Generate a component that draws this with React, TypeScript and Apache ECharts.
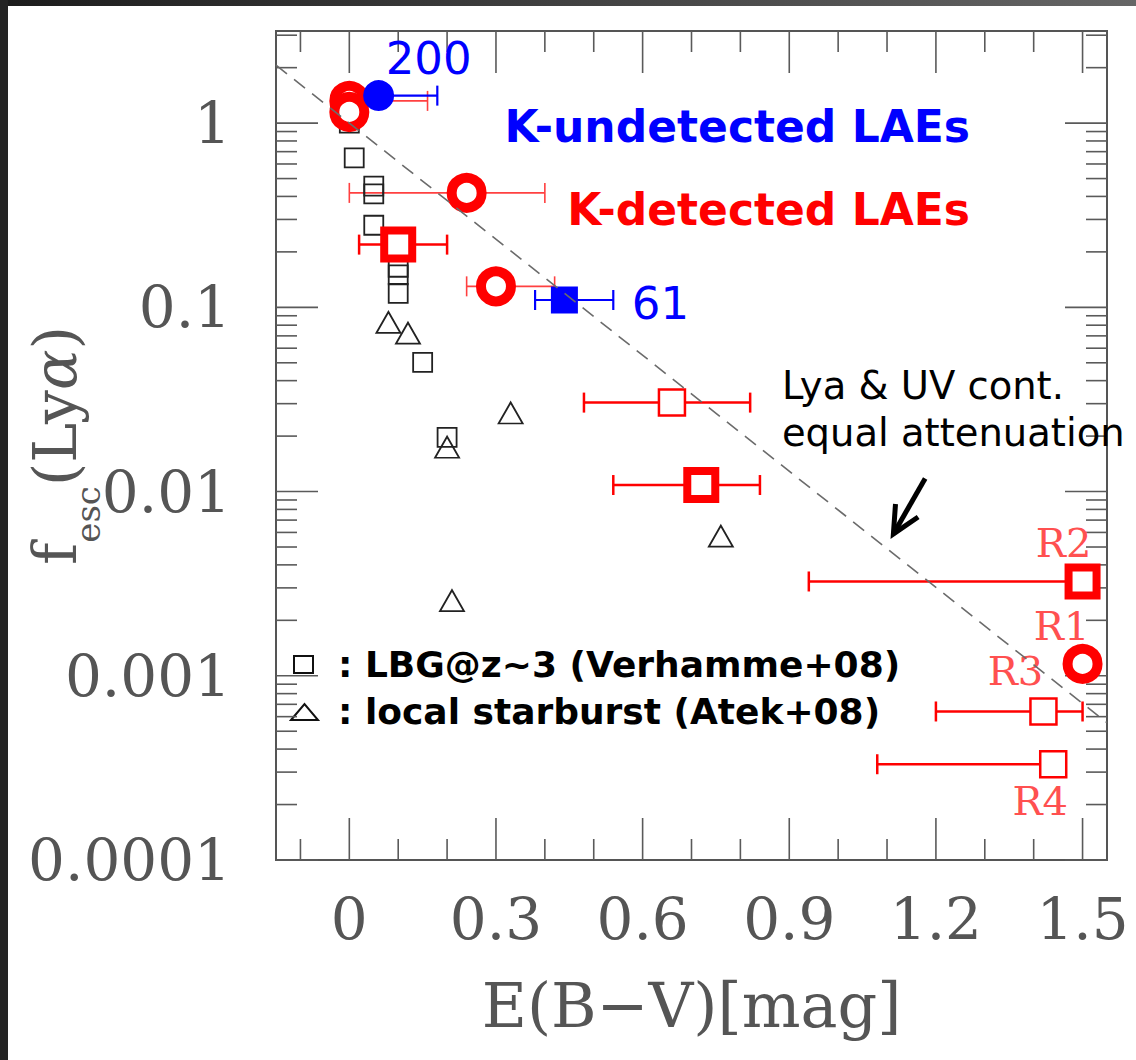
import React, { useEffect, useRef } from 'react';
import * as echarts from 'echarts';

// ---- axis extents ----
const X_MIN = -0.15;
const X_MAX = 1.55;
const Y_MIN = 1e-4;
const Y_MAX = Math.sqrt(10);

// ---- tick marks and labels ----
const xTickValues = [0, 0.3, 0.6, 0.9, 1.2, 1.5];
const xTickLabels = ['0', '0.3', '0.6', '0.9', '1.2', '1.5'];
const xMinorTicks = [-0.1, 0.1, 0.2, 0.4, 0.5, 0.7, 0.8, 1.0, 1.1, 1.3, 1.4];
const yTickValues = [1e-4, 1e-3, 1e-2, 1e-1, 1];
const yTickLabels = ['0.0001', '0.001', '0.01', '0.1', '1'];
const yMinorMultipliers = [2, 3, 4, 5, 6, 7, 8, 9];

// ---- LBGs at z~3 (Verhamme+08) ----
const LBG_NAME = 'LBG@z~3 (Verhamme+08)';
const lbgEbv = [0.0, 0.01, 0.05, 0.05, 0.05, 0.10, 0.10, 0.10, 0.15, 0.20];
const lbgFesc = [1.0, 0.647, 0.455, 0.413, 0.279, 0.165, 0.150, 0.119, 0.0502, 0.0197];

// ---- local starbursts (Atek+08) ----
const SB_NAME = 'local starburst (Atek+08)';
const sbEbv = [0.08, 0.12, 0.33, 0.20, 0.21, 0.76];
const sbFesc = [0.0829, 0.0724, 0.0267, 0.0174, 0.00256, 0.00573];

// ---- K-detected LAEs: circles ----
const kdCircEbv = [0.0, 0.0, 0.24, 0.30, 1.50];
const kdCircFesc = [1.32, 1.15, 0.418, 0.130, 0.00116];
const kdCircEbvLo = [0.0, 0.0, 0.0, 0.24, 1.49];
const kdCircEbvHi = [0.16, 0.0, 0.40, 0.42, 1.50];
const kdCircNames = ['', '', '', '', 'R1'];

// ---- K-detected LAEs: bold squares ----
const kdSqEbv = [0.10, 0.72, 1.50];
const kdSqFesc = [0.219, 0.01085, 0.00325];
const kdSqEbvLo = [0.02, 0.54, 0.94];
const kdSqEbvHi = [0.20, 0.84, 1.50];
const kdSqNames = ['', '', 'R2'];

// ---- K-detected LAEs: thin squares ----
const kdOpenEbv = [0.66, 1.42, 1.44];
const kdOpenFesc = [0.0304, 0.00064, 0.000331];
const kdOpenEbvLo = [0.48, 1.20, 1.08];
const kdOpenEbvHi = [0.82, 1.50, 1.46];
const kdOpenNames = ['', 'R3', 'R4'];

// ---- K-undetected LAEs (stacks) ----
const kuEbv = [0.06, 0.44];
const kuFesc = [1.41, 0.1096];
const kuEbvLo = [0.0, 0.38];
const kuEbvHi = [0.18, 0.54];
const kuCounts = ['200', '61'];

// ---- equal attenuation of Lya and UV continuum ----
const attenEbv = [-0.15, 1.55];
const attenFesc = [2.065, 0.000556];

// ---- annotation ----
const noteLines = ['Lya & UV cont.', 'equal attenuation'];
const noteEbv = 0.885;
const noteFesc = [0.0377, 0.0209];
const arrowTail = [1.178, 0.01177];
const arrowTip = [1.113, 0.00589];

const SERIF = "'DejaVu Serif', serif";
const SANS = "'DejaVu Sans', sans-serif";
const RED = '#ff0000';
const BLUE = '#0000ff';
const AXIS_TEXT = '#555';
const TICK = '#5a5a5a';

const labelOffsets: Record<string, number[]> = {
  R1: [-21, -38],
  R2: [-19, -38],
  R3: [-28, -40],
  R4: [-13, 37],
  '200': [50, -37],
  '61': [96, 4],
};

const pairs = (xs: number[], ys: number[]) => xs.map((x, i) => [x, ys[i]]);

const markerItems = (xs: number[], ys: number[], names: string[] | null, labelStyle: any) =>
  xs.map((x, i) => {
    const item: any = { value: [x, ys[i]] };
    const n = names ? names[i] : '';
    if (n) {
      item.name = n;
      item.label = {
        show: true,
        position: 'inside',
        formatter: n,
        offset: labelOffsets[n],
        ...labelStyle,
      };
    }
    return item;
  });

const barItems = (xs: number[], ys: number[], lo: number[], hi: number[]) =>
  xs.map((x, i) => [x, ys[i], lo[i], hi[i]]);

const errorBarSeries = (name: string, data: number[][], color: string, width: number, cap: number) => ({
  type: 'custom',
  name,
  silent: true,
  clip: false,
  encode: { x: 0, y: 1 },
  data,
  renderItem: (_p: any, api: any) => {
    const y = api.value(1);
    const lo = api.value(2);
    const hi = api.value(3);
    if (!(hi > lo)) return null;
    const a = api.coord([lo, y]);
    const b = api.coord([hi, y]);
    const st = { stroke: color, lineWidth: width };
    return {
      type: 'group',
      children: [
        { type: 'line', shape: { x1: a[0], y1: a[1], x2: b[0], y2: b[1] }, style: st },
        { type: 'line', shape: { x1: a[0], y1: a[1] - cap, x2: a[0], y2: a[1] + cap }, style: st },
        { type: 'line', shape: { x1: b[0], y1: b[1] - cap, x2: b[0], y2: b[1] + cap }, style: st },
      ],
    };
  },
});

const seg = (x1: number, y1: number, x2: number, y2: number) => ({
  type: 'line',
  shape: { x1, y1, x2, y2 },
  style: { stroke: TICK, lineWidth: 1.6 },
});

function buildOption() {
  const rLabel = { color: '#ff5050', fontFamily: SERIF, fontSize: 40 };
  const nLabel = { color: BLUE, fontFamily: SANS, fontSize: 45 };

  const yMinor: number[] = [];
  for (let e = -4; e <= 0; e++) {
    for (const m of yMinorMultipliers) {
      const v = m * Math.pow(10, e);
      if (v < Y_MAX) yMinor.push(v);
    }
  }

  return {
    animation: false,
    backgroundColor: '#ffffff',
    grid: {
      left: 276,
      top: 31,
      width: 831,
      height: 829,
      outerBoundsMode: 'none',
      containLabel: false,
      show: true,
      borderColor: '#555',
      borderWidth: 2,
      backgroundColor: 'transparent',
    },
    xAxis: {
      type: 'value',
      min: X_MIN,
      max: X_MAX,
      axisLine: { show: false },
      axisTick: { show: false },
      splitLine: { show: false },
      axisLabel: {
        customValues: xTickValues,
        margin: 30,
        fontFamily: SERIF,
        fontSize: 58,
        color: AXIS_TEXT,
        formatter: (v: number) => {
          const i = xTickValues.findIndex((t) => Math.abs(t - v) < 1e-6);
          return i >= 0 ? xTickLabels[i] : '';
        },
      },
      name: 'E(B\u2212V)[mag]',
      nameLocation: 'middle',
      nameGap: 114,
      nameMoveOverlap: false,
      nameTextStyle: { fontFamily: SERIF, fontSize: 62, color: AXIS_TEXT },
    },
    yAxis: {
      type: 'log',
      logBase: 10,
      min: Y_MIN,
      max: Y_MAX,
      axisLine: { show: false },
      axisTick: { show: false },
      splitLine: { show: false },
      axisLabel: {
        margin: 45,
        showMinLabel: true,
        fontFamily: SERIF,
        fontSize: 58,
        color: AXIS_TEXT,
        formatter: (v: number) => {
          const i = yTickValues.findIndex((t) => Math.abs(Math.log10(t) - Math.log10(v)) < 1e-6);
          return i >= 0 ? yTickLabels[i] : '';
        },
      },
      name: '{t|f}{sub|esc}{t|(Ly}{a|\u03b1}{t|)}',
      nameLocation: 'middle',
      nameRotate: 90,
      nameGap: 151,
      nameMoveOverlap: false,
      nameTextStyle: {
        rich: {
          t: { fontFamily: SERIF, fontSize: 60, lineHeight: 60, verticalAlign: 'top', color: AXIS_TEXT },
          a: {
            fontFamily: SERIF,
            fontSize: 60,
            lineHeight: 60,
            verticalAlign: 'top',
            fontStyle: 'italic',
            color: AXIS_TEXT,
          },
          sub: {
            fontFamily: SERIF,
            fontSize: 34,
            lineHeight: 100,
            verticalAlign: 'top',
            padding: [46, 0, 0, 0],
            color: AXIS_TEXT,
          },
        },
      },
    },
    graphic: [
      {
        type: 'rect',
        shape: { x: 0, y: 0, width: 1136, height: 6 },
        style: {
          fill: new echarts.graphic.LinearGradient(0, 0, 1, 0, [
            { offset: 0, color: '#1c1c1c' },
            { offset: 1, color: '#666666' },
          ]),
        },
        silent: true,
      },
      {
        type: 'rect',
        shape: { x: 0, y: 0, width: 8, height: 1060 },
        style: { fill: '#242424' },
        silent: true,
      },
      {
        type: 'text',
        x: 970,
        y: 126,
        style: {
          text: 'K-undetected LAEs',
          fill: BLUE,
          fontFamily: SANS,
          fontWeight: 'bold',
          fontSize: 44,
          textAlign: 'right',
          align: 'right',
          textVerticalAlign: 'middle',
          verticalAlign: 'middle',
        },
      },
      {
        type: 'text',
        x: 970,
        y: 209,
        style: {
          text: 'K-detected LAEs',
          fill: RED,
          fontFamily: SANS,
          fontWeight: 'bold',
          fontSize: 44,
          textAlign: 'right',
          align: 'right',
          textVerticalAlign: 'middle',
          verticalAlign: 'middle',
        },
      },
      {
        type: 'rect',
        shape: { x: 294, y: 656, width: 19, height: 17 },
        style: { fill: 'none', stroke: '#111', lineWidth: 2 },
      },
      {
        type: 'polygon',
        shape: { points: [[291, 720], [304.5, 704], [318, 720]] },
        style: { fill: 'none', stroke: '#111', lineWidth: 2 },
      },
      {
        type: 'text',
        x: 338,
        y: 664,
        style: {
          text: ': ' + LBG_NAME,
          fill: '#000',
          fontFamily: SANS,
          fontWeight: 'bold',
          fontSize: 36,
          textVerticalAlign: 'middle',
          verticalAlign: 'middle',
        },
      },
      {
        type: 'text',
        x: 338,
        y: 711,
        style: {
          text: ': ' + SB_NAME,
          fill: '#000',
          fontFamily: SANS,
          fontWeight: 'bold',
          fontSize: 36,
          textVerticalAlign: 'middle',
          verticalAlign: 'middle',
        },
      },
    ],
    series: [
      // inward ticks on all four sides of the frame
      {
        type: 'custom',
        name: 'frame ticks',
        silent: true,
        clip: false,
        data: [[0, 1]],
        encode: { x: 0, y: 1 },
        renderItem: (_p: any, api: any) => {
          const children: any[] = [];
          const yBot = api.coord([0, Y_MIN])[1];
          const yTop = api.coord([0, Y_MAX])[1];
          const xL = api.coord([X_MIN, 1])[0];
          const xR = api.coord([X_MAX, 1])[0];
          const xt = (v: number, len: number) => {
            const x = api.coord([v, 1])[0];
            children.push(seg(x, yBot, x, yBot - len), seg(x, yTop, x, yTop + len));
          };
          const yt = (v: number, len: number) => {
            const y = api.coord([0, v])[1];
            children.push(seg(xL, y, xL + len, y), seg(xR, y, xR - len, y));
          };
          xTickValues.forEach((v) => xt(v, 42));
          xMinorTicks.forEach((v) => xt(v, 21));
          yTickValues.forEach((v) => yt(v, 42));
          yMinor.forEach((v) => yt(v, 21));
          return { type: 'group', children };
        },
      },
      {
        type: 'line',
        name: 'equal attenuation',
        silent: true,
        symbol: 'none',
        data: pairs(attenEbv, attenFesc),
        lineStyle: { color: '#6b6b6b', width: 1.6, type: [14, 9] },
      },
      {
        type: 'scatter',
        name: LBG_NAME,
        silent: true,
        symbol: 'rect',
        symbolSize: 19,
        itemStyle: { color: 'rgba(0,0,0,0)', borderColor: '#222', borderWidth: 1.8, opacity: 1 },
        data: pairs(lbgEbv, lbgFesc),
      },
      {
        type: 'scatter',
        name: SB_NAME,
        silent: true,
        symbol: 'triangle',
        symbolSize: [24, 21],
        itemStyle: { color: 'rgba(0,0,0,0)', borderColor: '#222', borderWidth: 1.8, opacity: 1 },
        data: pairs(sbEbv, sbFesc),
      },
      errorBarSeries('K-detected circles err', barItems(kdCircEbv, kdCircFesc, kdCircEbvLo, kdCircEbvHi), '#ff4040', 1.6, 10),
      {
        type: 'scatter',
        name: 'K-detected circles',
        silent: true,
        symbol: 'circle',
        symbolSize: 30,
        itemStyle: { color: '#fff', borderColor: RED, borderWidth: 10, opacity: 1 },
        data: markerItems(kdCircEbv, kdCircFesc, kdCircNames, rLabel),
      },
      errorBarSeries('K-detected open err', barItems(kdOpenEbv, kdOpenFesc, kdOpenEbvLo, kdOpenEbvHi), RED, 2.5, 10),
      {
        type: 'scatter',
        name: 'K-detected open squares',
        silent: true,
        symbol: 'rect',
        symbolSize: 26,
        itemStyle: { color: '#fff', borderColor: RED, borderWidth: 2.5, opacity: 1 },
        data: markerItems(kdOpenEbv, kdOpenFesc, kdOpenNames, rLabel),
      },
      {
        type: 'scatter',
        name: 'K-detected squares',
        silent: true,
        symbol: 'rect',
        symbolSize: 28,
        itemStyle: { color: '#fff', borderColor: RED, borderWidth: 8, opacity: 1 },
        data: markerItems(kdSqEbv, kdSqFesc, kdSqNames, rLabel),
      },
      errorBarSeries('K-detected squares err', barItems(kdSqEbv, kdSqFesc, kdSqEbvLo, kdSqEbvHi), RED, 2.5, 10),
      errorBarSeries('K-undetected err', barItems(kuEbv, kuFesc, kuEbvLo, kuEbvHi), BLUE, 2.2, 10),
      {
        type: 'scatter',
        name: 'K-undetected stack 200',
        silent: true,
        symbol: 'circle',
        symbolSize: 31,
        itemStyle: { color: BLUE, opacity: 1 },
        data: markerItems([kuEbv[0]], [kuFesc[0]], [kuCounts[0]], nLabel),
      },
      {
        type: 'scatter',
        name: 'K-undetected stack 61',
        silent: true,
        symbol: 'rect',
        symbolSize: 27,
        itemStyle: { color: BLUE, opacity: 1 },
        data: markerItems([kuEbv[1]], [kuFesc[1]], [kuCounts[1]], nLabel),
      },
      // note and arrow pointing at the equal-attenuation line
      {
        type: 'custom',
        name: 'note',
        silent: true,
        clip: false,
        data: [[0, 1]],
        encode: { x: 0, y: 1 },
        renderItem: (_p: any, api: any) => {
          const tip = api.coord(arrowTip);
          const tail = api.coord(arrowTail);
          const ang = Math.atan2(tail[1] - tip[1], tail[0] - tip[0]);
          const L = 30;
          const sp = 0.45;
          const w1 = [tip[0] + L * Math.cos(ang + sp), tip[1] + L * Math.sin(ang + sp)];
          const w2 = [tip[0] + L * Math.cos(ang - sp), tip[1] + L * Math.sin(ang - sp)];
          const st = { stroke: '#000', lineWidth: 5, fill: 'none' };
          const texts = noteLines.map((s, i) => {
            const p = api.coord([noteEbv, noteFesc[i]]);
            return {
              type: 'text',
              x: p[0],
              y: p[1],
              style: {
                text: s,
                fill: '#000',
                fontFamily: SANS,
                fontSize: 38.5,
                textAlign: 'left',
                align: 'left',
                textVerticalAlign: 'middle',
                verticalAlign: 'middle',
              },
            };
          });
          return {
            type: 'group',
            children: [
              { type: 'line', shape: { x1: tail[0], y1: tail[1], x2: tip[0], y2: tip[1] }, style: st },
              { type: 'polyline', shape: { points: [w1, tip, w2] }, style: st },
              ...texts,
            ],
          };
        },
      },
    ],
  };
}

export default function App() {
  const ref = useRef<HTMLDivElement>(null);
  useEffect(() => {
    document.body.style.margin = '0';
    if (!ref.current) return;
    const chart = echarts.init(ref.current, null, { renderer: 'svg' });
    chart.setOption(buildOption() as any);
    return () => chart.dispose();
  }, []);
  return <div ref={ref} style={{ width: 1136, height: 1060 }} />;
}
